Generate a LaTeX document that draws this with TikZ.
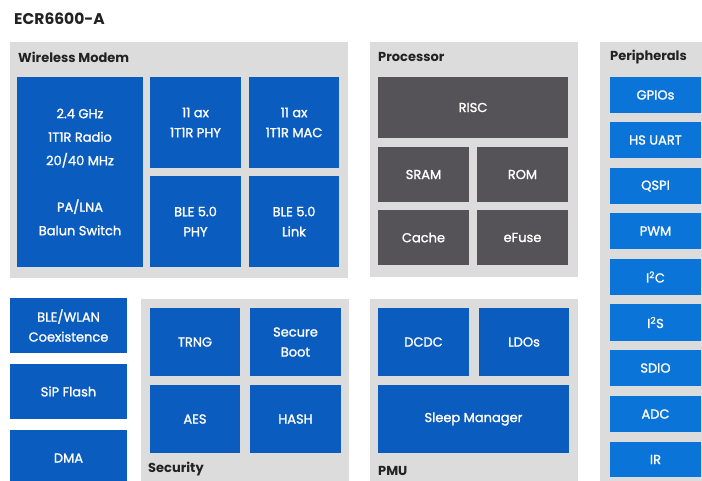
\documentclass[tikz,border=0pt]{standalone}
\usepackage{fontspec}
\setmainfont{Poppins}
\newfontfamily\blkfont{Poppins}[FakeBold=1.4]
\definecolor{panelgray}{HTML}{DCDCDC}
\definecolor{dblue}{HTML}{0B5CBF}
\definecolor{lblue}{HTML}{0A74D8}
\definecolor{dgray}{HTML}{555358}
\definecolor{ttl}{HTML}{222222}
\tikzset{
  panel/.style={fill=panelgray, draw=none, inner sep=0pt},
  blk/.style={fill=dblue, draw=none, text=white, align=center, font=\blkfont\fontsize{13}{20}\selectfont, inner sep=0pt},
  pblk/.style={blk, fill=lblue},
  gblk/.style={blk, fill=dgray},
  plabel/.style={anchor=west, text=ttl, font=\fontsize{13}{14}\selectfont\bfseries, inner sep=0pt},
}
\newcommand\bx[7]{\node[#1,minimum width={(#5-#3)*1pt},minimum height={(#6-#4)*1pt}] (#2) at ({(#3+#5)/2},{(#4+#6)/2}) {#7};}
\begin{document}
\begin{tikzpicture}[x=1pt,y=-1pt]
\useasboundingbox[fill=white] (0,0) rectangle (702,481);
\node[plabel, font=\fontsize{15.5}{17}\selectfont\bfseries] (title) at (14,19) {ECR6600-A};
% panels
\bx{panel}{wm}{10}{42}{348}{278}{}
\bx{panel}{proc}{370}{42}{578}{277}{}
\bx{panel}{peri}{600}{42}{702}{481}{}
\bx{panel}{sec}{141}{299}{349}{481}{}
\bx{panel}{pmu}{370}{299}{578}{481}{}
\node[plabel] (wml) at (18,57) {Wireless Modem};
\node[plabel] (procl) at (378,57) {Processor};
\node[plabel] (peril) at (610,57) {Peripherals};
\node[plabel] (secl) at (148,469) {Security};
\node[plabel] (pmul) at (378,471) {PMU};
% wireless modem
\bx{blk, font=\blkfont\fontsize{13}{23.5}\selectfont}{radio}{17}{77}{143}{267}{2.4 GHz\\1T1R Radio\\20/40 MHz\\[23pt]PA/LNA\\Balun Switch}
\bx{blk}{axphy}{150}{77}{241}{168}{11 ax\\1T1R PHY}
\bx{blk}{axmac}{249}{77}{339}{168}{11 ax\\1T1R MAC}
\bx{blk}{blephy}{150}{176}{241}{267}{BLE 5.0\\PHY}
\bx{blk}{blelink}{249}{176}{339}{267}{BLE 5.0\\Link}
% processor
\bx{gblk}{risc}{378}{77}{568}{138}{RISC}
\bx{gblk}{sram}{378}{147}{469}{202}{SRAM}
\bx{gblk}{rom}{477}{147}{568}{202}{ROM}
\bx{gblk}{cache}{378}{210}{469}{265}{Cache}
\bx{gblk}{efuse}{477}{210}{568}{265}{eFuse}
% peripherals
\bx{pblk}{gpio}{610}{77}{701}{113}{GPIOs}
\bx{pblk}{uart}{610}{122}{701}{158}{HS UART}
\bx{pblk}{qspi}{610}{168}{701}{204}{QSPI}
\bx{pblk}{pwm}{610}{213}{701}{249}{PWM}
\bx{pblk}{iic}{610}{259}{701}{295}{I\textsuperscript{2}C}
\bx{pblk}{iis}{610}{304}{701}{341}{I\textsuperscript{2}S}
\bx{pblk}{sdio}{610}{350}{701}{386}{SDIO}
\bx{pblk}{adc}{610}{396}{701}{432}{ADC}
\bx{pblk}{ir}{610}{442}{701}{477}{IR}
% left column
\bx{blk}{coex}{10}{298}{127}{353}{BLE/WLAN\\Coexistence}
\bx{blk}{sip}{10}{364}{127}{419}{SiP Flash}
\bx{blk}{dma}{10}{430}{127}{486}{DMA}
% security
\bx{blk}{trng}{150}{308}{240}{376}{TRNG}
\bx{blk}{sboot}{250}{308}{341}{376}{Secure\\Boot}
\bx{blk}{aes}{150}{385}{240}{453}{AES}
\bx{blk}{hash}{250}{385}{341}{453}{HASH}
% pmu
\bx{blk}{dcdc}{378}{308}{469}{376}{DCDC}
\bx{blk}{ldo}{479}{308}{569}{376}{LDOs}
\bx{blk}{sleep}{378}{385}{569}{453}{Sleep Manager}
\end{tikzpicture}
\end{document}
